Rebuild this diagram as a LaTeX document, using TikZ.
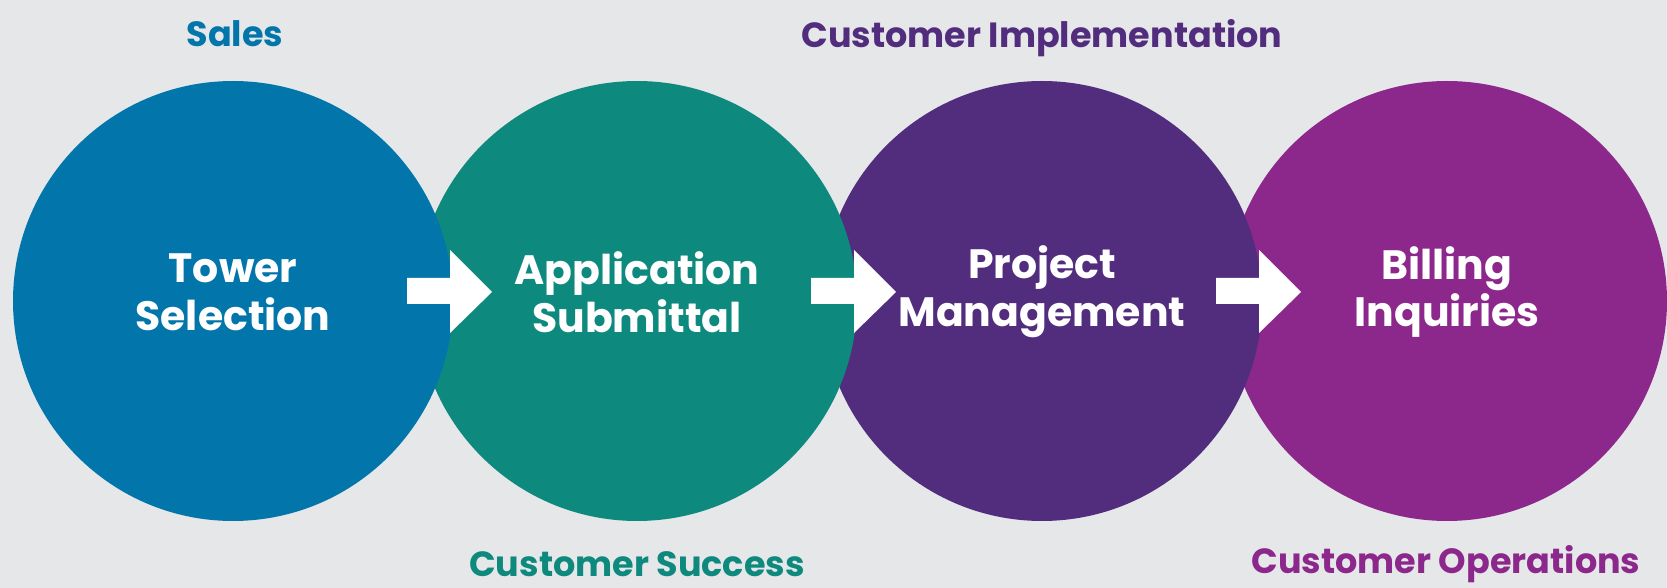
\documentclass[tikz,border=0pt]{standalone}
\usepackage{fontspec}
\setmainfont{Poppins}
\usetikzlibrary{positioning}

\definecolor{bgGrey}{RGB}{230,231,233}
\definecolor{salesBlue}{RGB}{2,118,170}
\definecolor{successTeal}{RGB}{14,137,126}
\definecolor{implPurple}{RGB}{82,45,126}
\definecolor{opsMagenta}{RGB}{140,40,140}

\tikzset{
  stage/.style={shape=circle, minimum size=220pt, inner sep=0pt},
  stagetext/.style={align=center, text=white, inner sep=0pt,
    font=\bfseries\fontsize{20.5}{23.8}\selectfont},
  team/.style={font=\bfseries\fontsize{17.5}{20}\selectfont, inner sep=0pt},
  flow/.style={fill=white}
}

\begin{document}
\begin{tikzpicture}[x=0.5pt, y=-0.5pt]
          % page
          \useasboundingbox (0,0) rectangle (1667,588);
          \fill[bgGrey] (0,0) rectangle (1667,588);

          % circles, the last one first
          \node[stage, fill=opsMagenta] at (1447,301) (billing) {};
          \node[stage, fill=implPurple] at (1042,301) (project) {};
          \node[stage, fill=successTeal] at (637,301) (application) {};
          \node[stage, fill=salesBlue] at (233,301) (tower) {};

          % stage names
          \node[stagetext] at ([yshift=4.5pt]tower.center) (towertext) {Tower\\Selection};
          \node[stagetext] at ([yshift=4.5pt]application.center) (applicationtext) {Application\\Submittal};
          \node[stagetext] at ([yshift=4.5pt]project.center) (projecttext) {Project\\Management};
          \node[stagetext] at ([yshift=4.5pt]billing.center) (billingtext) {Billing\\Inquiries};

          % block arrows
          \foreach \x in {407, 811, 1216}
          \fill[flow] (\x,278) -- ++(43,0) -- ++(0,-28) -- ++(42,42)
          -- ++(-42,41) -- ++(0,-29) -- ++(-43,0) -- cycle;

          % teams
          \node[team, text=salesBlue] at (235,34) (sales) {Sales};
          \node[team, text=implPurple] at (1042,38) (impl) {Customer Implementation};
          \node[team, text=successTeal] at (637,564) (success) {Customer Success};
          \node[team, text=opsMagenta] at (1446,564) (ops) {Customer Operations};
        \end{tikzpicture}
\end{document}
